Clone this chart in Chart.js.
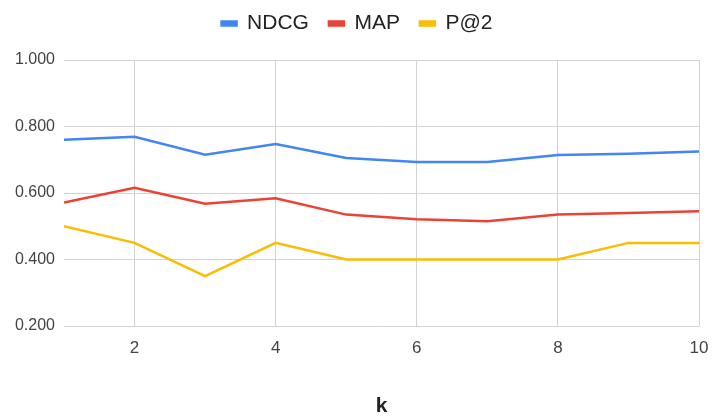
<!DOCTYPE html>
<html>
<head>
<meta charset="utf-8">
<script src="https://cdn.jsdelivr.net/npm/chart.js@4/dist/chart.umd.min.js"></script>
<style>
  html, body { margin: 0; padding: 0; background: #fff; }
  #wrap { width: 714px; height: 417px; position: relative; }
</style>
</head>
<body>
<div id="wrap"><canvas id="c" width="714" height="417"></canvas></div>
<script>
// k values on the horizontal axis
const kValues = [1, 2, 3, 4, 5, 6, 7, 8, 9, 10];
// ranking metrics per k
const ndcg = [0.760, 0.769, 0.715, 0.747, 0.705, 0.693, 0.693, 0.714, 0.718, 0.725];
const map  = [0.571, 0.616, 0.568, 0.584, 0.535, 0.521, 0.515, 0.535, 0.540, 0.545];
const p2   = [0.500, 0.450, 0.350, 0.450, 0.400, 0.400, 0.400, 0.400, 0.450, 0.450];
// tick labels
const xTicks = [2, 4, 6, 8, 10];
const yTicks = [0.2, 0.4, 0.6, 0.8, 1.0];

const FONT = '"Liberation Sans", Arial, sans-serif';
const toPoints = arr => arr.map((v, i) => ({ x: kValues[i], y: v }));

const series = [
  { label: 'NDCG', data: ndcg, color: '#4285F4' },
  { label: 'MAP',  data: map,  color: '#EA4335' },
  { label: 'P@2',  data: p2,   color: '#FBBC04' }
];

// leave extra room between the legend row and the plot
const legendGap = {
  id: 'legendGap',
  beforeLayout(chart) {
    const lg = chart.legend;
    if (!lg || lg._gapPatched) return;
    const fit = lg.fit;
    lg.fit = function () { fit.call(this); this.height += 16; };
    lg._gapPatched = true;
  }
};

new Chart(document.getElementById('c'), {
  type: 'line',
  data: {
    datasets: series.map(s => ({
      label: s.label,
      data: toPoints(s.data),
      borderColor: s.color,
      backgroundColor: s.color,
      borderWidth: 2.5,
      pointRadius: 0,
      tension: 0
    }))
  },
  plugins: [legendGap],
  options: {
    responsive: false,
    animation: false,
    layout: { padding: { left: 0, right: 0, top: -7, bottom: 0 } },
    plugins: {
      legend: {
        position: 'top',
        labels: {
          boxWidth: 15,
          boxHeight: 4,
          padding: 20,
          color: '#222',
          font: { family: FONT, size: 21 }
        }
      },
      tooltip: { enabled: false }
    },
    scales: {
      x: {
        type: 'linear',
        min: 1,
        max: 10,
        afterBuildTicks: axis => { axis.ticks = xTicks.map(v => ({ value: v })); },
        afterFit: scale => {
          scale.height = 91;
          scale.paddingLeft = 0;
          scale.paddingRight = 15;
        },
        grid: { color: '#d3d3d3', lineWidth: 1, drawTicks: false },
        border: { display: false },
        ticks: {
          color: '#444',
          padding: 12,
          maxRotation: 0,
          font: { family: FONT, size: 17 }
        },
        title: {
          display: true,
          text: 'k',
          color: '#222',
          padding: { top: 0, bottom: -2 },
          font: { family: FONT, size: 21, weight: 'bold' }
        }
      },
      y: {
        min: 0.2,
        max: 1.0,
        afterBuildTicks: axis => { axis.ticks = yTicks.map(v => ({ value: v })); },
        afterFit: scale => { scale.width = 64; },
        grid: { color: '#d3d3d3', lineWidth: 1, drawTicks: false },
        border: { display: false },
        ticks: {
          color: '#444',
          padding: 9,
          callback: v => Number(v).toFixed(3),
          font: { family: FONT, size: 16 }
        }
      }
    }
  }
});
</script>
</body>
</html>
